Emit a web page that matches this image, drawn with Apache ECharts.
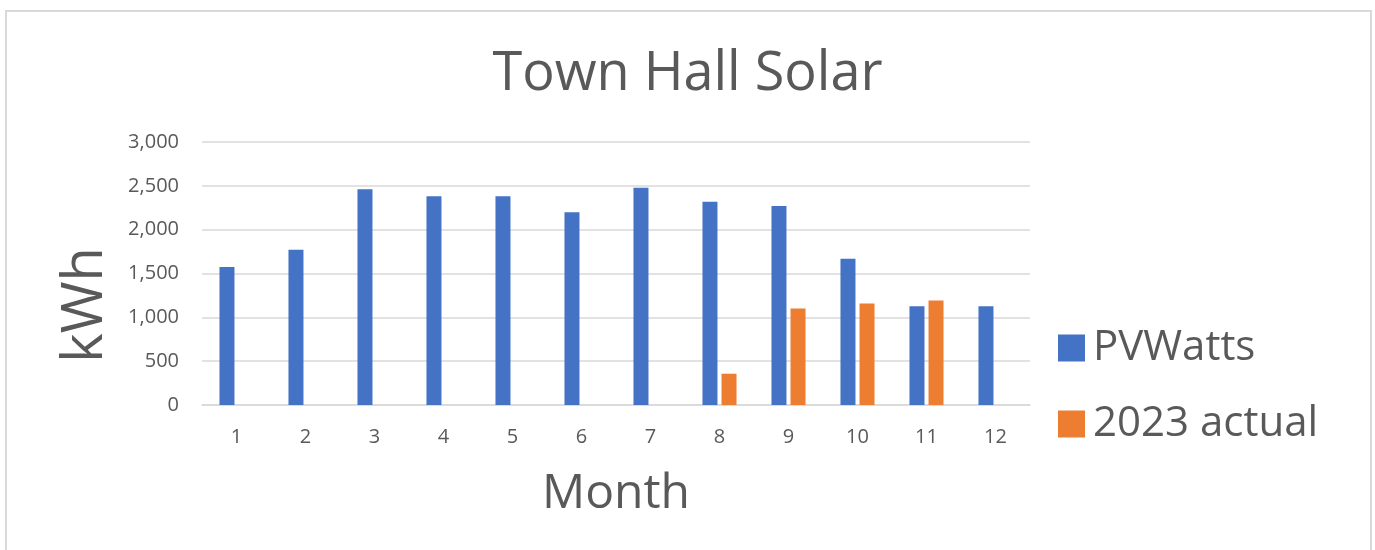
<!DOCTYPE html>
<html>
<head>
<meta charset="utf-8">
<script src="https://cdn.jsdelivr.net/npm/echarts@6/dist/echarts.min.js"></script>
<style>
html,body{margin:0;padding:0;background:#fff;}
#chart{width:1375px;height:550px;}
</style>
</head>
<body>
<div id="chart"></div>
<script>
const months = ['1','2','3','4','5','6','7','8','9','10','11','12'];
const pvwatts = [1575, 1770, 2462, 2380, 2380, 2200, 2477, 2318, 2269, 1669, 1127, 1127];
const actual2023 = [null, null, null, null, null, null, null, 357, 1100, 1157, 1191, null];
const seriesNames = ['PVWatts', '2023 actual'];
const yTicks = { min: 0, max: 3000, interval: 500 };

const FONT = '"Open Sans", "Noto Sans", sans-serif';
const TXT = '#595959';

const chart = echarts.init(document.getElementById('chart'), null, {renderer: 'canvas'});
chart.setOption({
  backgroundColor: '#ffffff',
  animation: false,
  graphic: [{
    type: 'rect',
    shape: {x: 6, y: 11, width: 1365, height: 560},
    style: {fill: 'none', stroke: '#d9d9d9', lineWidth: 2},
    silent: true
  }, {
    type: 'text',
    x: 86, y: 305,
    rotation: Math.PI / 2,
    style: {
      text: 'kWh', fontFamily: FONT, fontSize: 56, fill: TXT,
      align: 'center', verticalAlign: 'middle'
    },
    silent: true
  }],
  title: {
    text: 'Town Hall Solar',
    left: 'center',
    top: 43,
    textStyle: {fontFamily: FONT, fontSize: 54, fontWeight: 'normal', color: TXT}
  },
  legend: {
    orient: 'vertical',
    left: 1053,
    top: 321,
    itemWidth: 27,
    itemHeight: 27,
    itemGap: 32,
    icon: 'rect',
    textStyle: {fontFamily: FONT, fontSize: 42, color: TXT, padding: [0, 0, 0, 3], lineHeight: 44},
    data: seriesNames
  },
  grid: {left: 202, right: 345, top: 142, bottom: 145, containLabel: false},
  xAxis: {
    type: 'category',
    data: months,
    name: 'Month',
    nameLocation: 'middle',
    nameGap: 65,
    nameTextStyle: {fontFamily: FONT, fontSize: 48, color: TXT},
    axisLine: {lineStyle: {color: '#d9d9d9', width: 1.5}},
    axisTick: {show: false},
    axisLabel: {fontFamily: FONT, fontSize: 20, color: TXT, margin: 22}
  },
  yAxis: {
    type: 'value',
    min: yTicks.min,
    max: yTicks.max,
    interval: yTicks.interval,
    axisLine: {show: false},
    axisTick: {show: false},
    axisLabel: {
      fontFamily: FONT, fontSize: 20, color: TXT, margin: 23,
      formatter: v => v.toLocaleString('en-US')
    },
    splitLine: {lineStyle: {color: '#d9d9d9', width: 1.5}}
  },
  series: [
    {
      name: seriesNames[0], type: 'bar', data: pvwatts,
      barWidth: 15, barGap: '27%',
      itemStyle: {color: '#4472C4'}
    },
    {
      name: seriesNames[1], type: 'bar', data: actual2023,
      barWidth: 15, barGap: '27%',
      itemStyle: {color: '#ED7D31'}
    }
  ]
});
</script>
</body>
</html>
